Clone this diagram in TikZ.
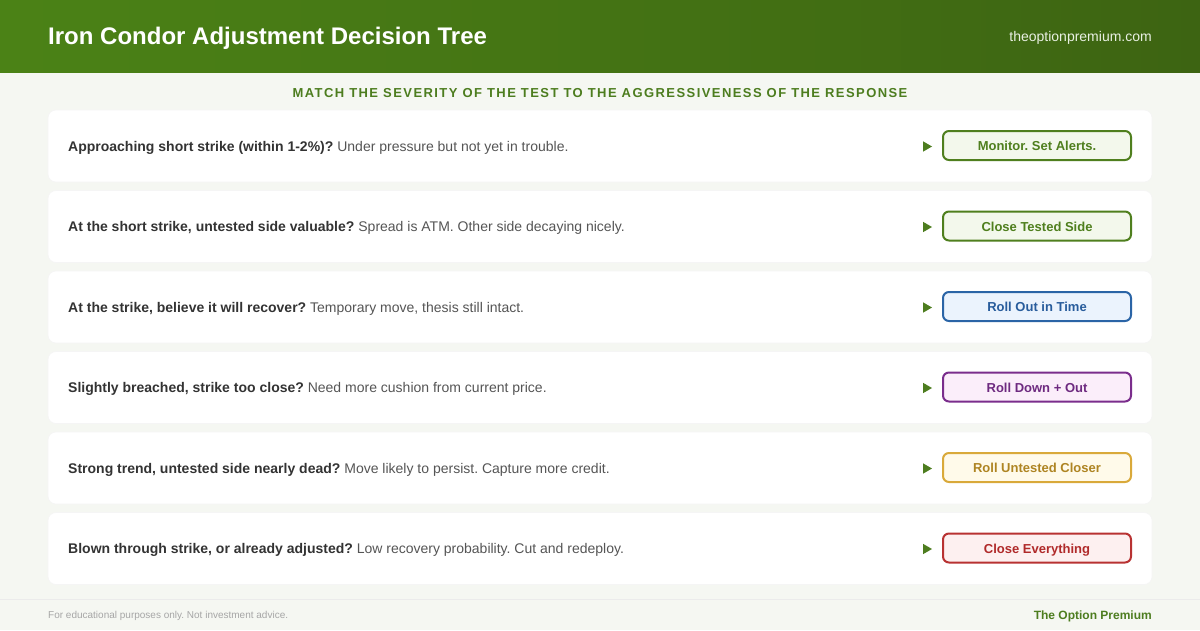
\documentclass[tikz,border=0pt]{standalone}
\usepackage{fontspec}
\setmainfont{Liberation Sans}
\usetikzlibrary{shapes.geometric}
\frenchspacing

\definecolor{headL}{HTML}{4B8216}
\definecolor{headR}{HTML}{3D6412}
\definecolor{pagebg}{HTML}{F5F7F2}
\definecolor{leaf}{HTML}{4D7D1F}
\definecolor{qdark}{HTML}{333333}
\definecolor{qsoft}{HTML}{555555}
\definecolor{greenLine}{HTML}{4F7F1E}
\definecolor{greenFill}{HTML}{F3F8EC}
\definecolor{blueLine}{HTML}{2A64A6}
\definecolor{blueFill}{HTML}{EBF3FD}
\definecolor{blueText}{HTML}{285C9C}
\definecolor{purpLine}{HTML}{7A2D8C}
\definecolor{purpFill}{HTML}{FBEEFA}
\definecolor{purpText}{HTML}{6E2A80}
\definecolor{goldLine}{HTML}{D9A93A}
\definecolor{goldFill}{HTML}{FFFAEA}
\definecolor{goldText}{HTML}{AE8422}
\definecolor{redLine}{HTML}{B83232}
\definecolor{redFill}{HTML}{FDF0F0}
\definecolor{redText}{HTML}{B02A2A}

\begin{document}
\begin{tikzpicture}[
                x = 1pt, y = -1pt,
                card/.style = {fill = white, draw = black!4, line width = 0.6pt, rounded corners = 8pt,
                    minimum width = 1104pt, minimum height = 72pt, inner sep = 0pt},
                quest/.style = {anchor = base west, inner sep = 0pt, font = \fontsize{14}{16}\selectfont, text = qsoft},
                tip/.style = {isosceles triangle, isosceles triangle apex angle = 60, fill = leaf,
                    inner sep = 0pt, minimum size = 9pt},
                act/.style = {draw, line width = 2pt, rounded corners = 6pt, minimum width = 188pt,
                    minimum height = 29pt, inner sep = 0pt, text height = 12pt, text depth = 2pt,
                    font = \fontsize{13}{15}\selectfont\bfseries},
                green act/.style = {act, draw = greenLine, fill = greenFill, text = greenLine},
                blue act/.style = {act, draw = blueLine, fill = blueFill, text = blueText},
                purple act/.style = {act, draw = purpLine, fill = purpFill, text = purpText},
                gold act/.style = {act, draw = goldLine, fill = goldFill, text = goldText},
                red act/.style = {act, draw = redLine, fill = redFill, text = redText},
            ]
            \useasboundingbox (0, 0) rectangle (1200, 630);
            \fill[pagebg] (0, 0) rectangle (1200, 630);

            % header band
            \shade[left color = headL, right color = headR] (0, 0) rectangle (1200, 72);
            \node (title) at (48, 44.5) [anchor = base west, inner sep = 0pt, text = white,
                font = \fontsize{24}{28}\selectfont\bfseries] {Iron Condor Adjustment Decision Tree};
            \node (site) at (1152, 41) [anchor = base east, inner sep = 0pt, text = white!88!headL,
                font = \fontsize{14}{16}\selectfont] {theoptionpremium.com};

            \node (motto) at (600, 97.5) [anchor = base, inner sep = 0pt, text = leaf,
                font = \fontsize{13}{15}\selectfont\bfseries\addfontfeatures{LetterSpace = 11}]
                {MATCH THE SEVERITY OF THE TEST TO THE AGGRESSIVENESS OF THE RESPONSE};

            % rows
            \node (card1) at (600, 146) [card] {};
            \node (card2) at (600, 226.5) [card] {};
            \node (card3) at (600, 307) [card] {};
            \node (card4) at (600, 387.5) [card] {};
            \node (card5) at (600, 468) [card] {};
            \node (card6) at (600, 548.5) [card] {};

            \node (q1) at (68, 151) [quest] {\textcolor{qdark}{\bfseries Approaching short strike (within 1-2\%)?} Under pressure but not yet in trouble.};
            \node (q2) at (68, 231.5) [quest] {\textcolor{qdark}{\bfseries At the short strike, untested side valuable?} Spread is ATM. Other side decaying nicely.};
            \node (q3) at (68, 312) [quest] {\textcolor{qdark}{\bfseries At the strike, believe it will recover?} Temporary move, thesis still intact.};
            \node (q4) at (68, 392.5) [quest] {\textcolor{qdark}{\bfseries Slightly breached, strike too close?} Need more cushion from current price.};
            \node (q5) at (68, 473) [quest] {\textcolor{qdark}{\bfseries Strong trend, untested side nearly dead?} Move likely to persist. Capture more credit.};
            \node (q6) at (68, 553.5) [quest] {\textcolor{qdark}{\bfseries Blown through strike, or already adjusted?} Low recovery probability. Cut and redeploy.};

            \node (tip1) at (926, 146.5) [tip] {};
            \node (tip2) at (926, 227) [tip] {};
            \node (tip3) at (926, 307.5) [tip] {};
            \node (tip4) at (926, 388) [tip] {};
            \node (tip5) at (926, 468.5) [tip] {};
            \node (tip6) at (926, 549) [tip] {};

            \node (act1) at (1037, 145.5) [green act] {Monitor. Set Alerts.};
            \node (act2) at (1037, 226) [green act] {Close Tested Side};
            \node (act3) at (1037, 306.5) [blue act] {Roll Out in Time};
            \node (act4) at (1037, 387) [purple act] {Roll Down + Out};
            \node (act5) at (1037, 467.5) [gold act] {Roll Untested Closer};
            \node (act6) at (1037, 548) [red act] {Close Everything};

            % footer
            \draw[black!8, line width = 1pt] (0, 599) -- (1200, 599);
            \node (note) at (48, 618.5) [anchor = base west, inner sep = 0pt, text = black!35,
                font = \fontsize{10}{12}\selectfont] {For educational purposes only. Not investment advice.};
            \node (brand) at (1152, 619) [anchor = base east, inner sep = 0pt, text = leaf,
                font = \fontsize{12}{14}\selectfont\bfseries] {The Option Premium};
        \end{tikzpicture}
\end{document}
